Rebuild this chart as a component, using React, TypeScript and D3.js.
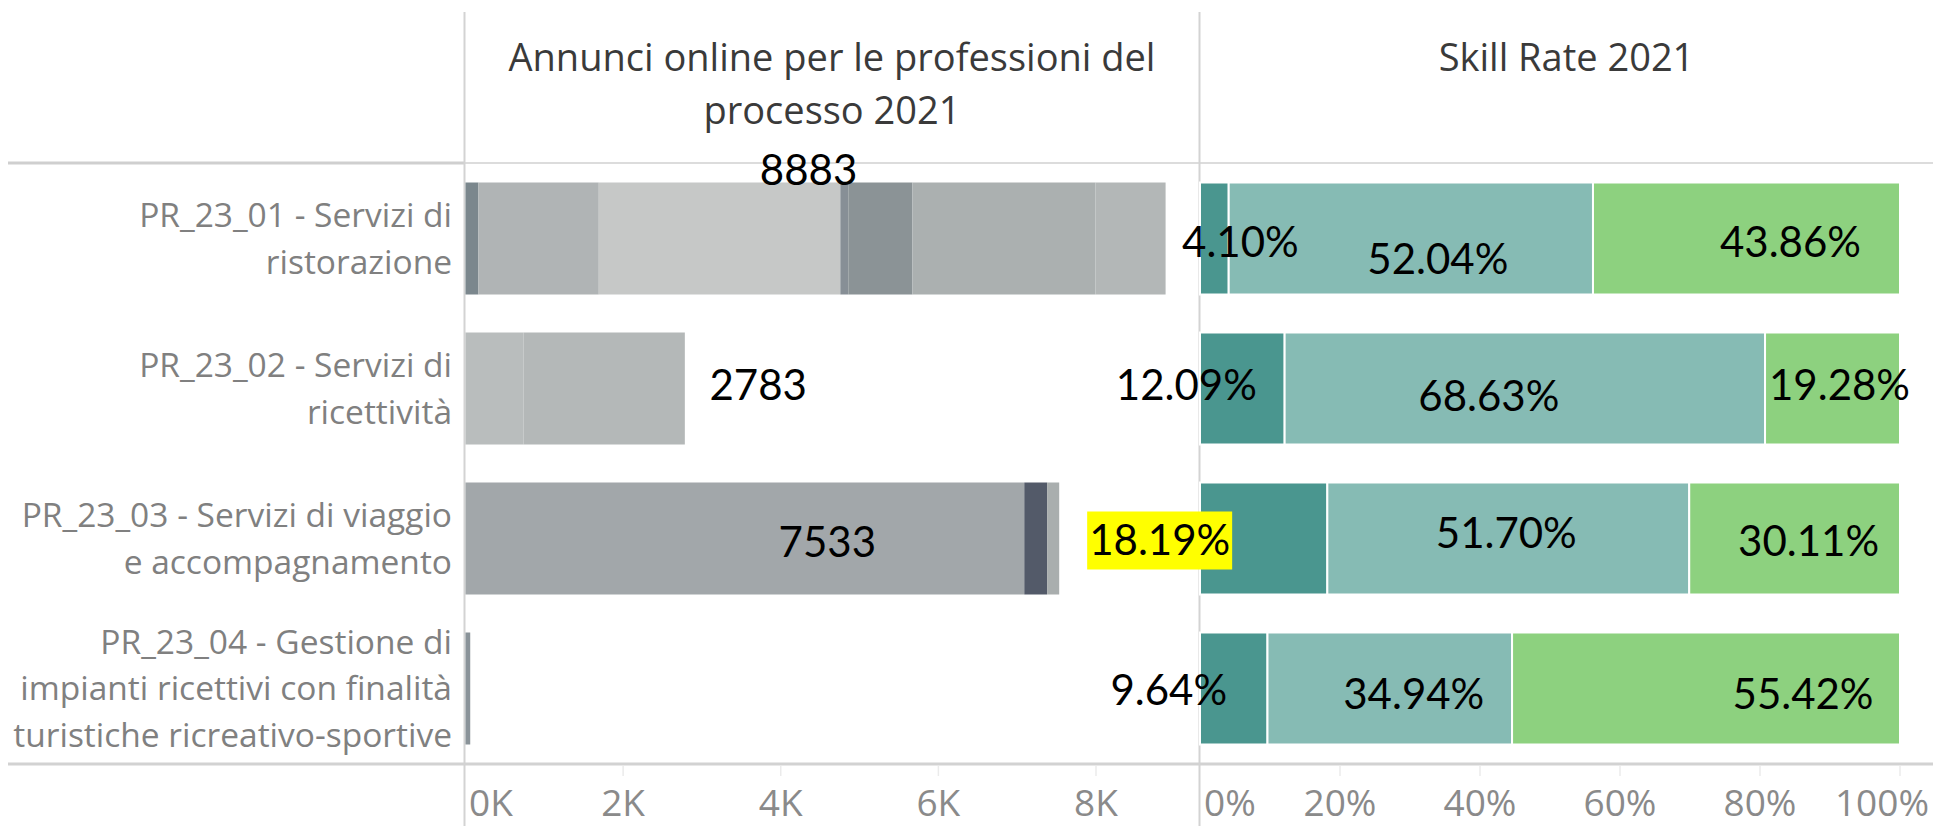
import React from "react";
import * as d3 from "d3";

// ---------- DATA ----------
const categoryIds = ["PR_23_01", "PR_23_02", "PR_23_03", "PR_23_04"];
const categoryLines = [
  ["PR_23_01 - Servizi di", "ristorazione"],
  ["PR_23_02 - Servizi di", "ricettività"],
  ["PR_23_03 - Servizi di viaggio", "e accompagnamento"],
  ["PR_23_04 - Gestione di", "impianti ricettivi con finalità", "turistiche ricreativo-sportive"],
];
// online job ads per profession (stacked by profession within the process)
const ristorazioneParts = [164, 1527, 3065, 101, 813, 2324, 889];
const ricettivitaParts = [735, 2048];
const viaggioParts = [7090, 290, 153];
const impiantiParts = [60];
const totalLabels = ["8883", "2783", "7533", ""];
// skill rate 2021 (%)
const skillLow = [4.1, 12.09, 18.19, 9.64];
const skillMid = [52.04, 68.63, 51.7, 34.94];
const skillHigh = [43.86, 19.28, 30.11, 55.42];
const leftTicks = [0, 2000, 4000, 6000, 8000];
const rightTicks = [0, 0.2, 0.4, 0.6, 0.8, 1];
const headerLeft = ["Annunci online per le professioni del", "processo 2021"];
const headerRight = "Skill Rate 2021";

// ---------- STYLE ----------
const partColors = [
  ["#7b878d", "#b0b4b5", "#c6c8c7", "#878f96", "#8b9396", "#abb0b0", "#b3b7b7"],
  ["#b9bdbd", "#b4b8b8"],
  ["#a2a7aa", "#535a69", "#a9aeae"],
  ["#8a9399"],
];
const skillColors = ["#4a968f", "#86bbb4", "#8dd17f"];
// label nudges (px) relative to segment / bar center
const totalNudge = [
  { dx: -7, dy: -69 },
  { dx: 183, dy: -4 },
  { dx: 65, dy: 3 },
  { dx: 0, dy: 0 },
];
const skillNudge = [
  [{ dx: 26, dy: 3 }, { dx: 27, dy: 20 }, { dx: 44, dy: 3 }],
  [{ dx: -56, dy: -4 }, { dx: -36, dy: 7 }, { dx: 7, dy: -4 }],
  [{ dx: -104, dy: 1 }, { dx: -2, dy: -6 }, { dx: 14, dy: 2 }],
  [{ dx: -65, dy: 1 }, { dx: 24, dy: 5 }, { dx: 97, dy: 5 }],
];

const W = 1933;
const H = 826;
const TAB = "'Open Sans', 'Noto Sans', sans-serif";
const LBL = "Lato, 'Open Sans', sans-serif";

export default function App() {
  const allParts = [ristorazioneParts, ricettivitaParts, viaggioParts, impiantiParts];

  const y = d3
    .scaleBand<string>()
    .domain(categoryIds)
    .range([163.5, 763.5])
    .paddingInner(0.2533)
    .paddingOuter(0.12667);

  const xL = d3.scaleLinear().domain([0, 8000]).range([465.5, 1096]);
  const xR = d3.scaleLinear().domain([0, 1]).range([1200, 1900]);
  const stack = d3.stack<any>().keys(["low", "mid", "high"]);
  const skillRows = categoryIds.map((id, i) => ({
    id,
    low: skillLow[i] / 100,
    mid: skillMid[i] / 100,
    high: skillHigh[i] / 100,
  }));
  const series = stack(skillRows);

  const fmtK = (v: number) => d3.format(".0f")(v / 1000) + "K";
  const fmtP = d3.format(".0%");
  const fmtLbl = (v: number) => v.toFixed(2) + "%";

  const bw = y.bandwidth();
  const labelFs = 42;
  const capL = labelFs * 0.72;

  return (
    <svg
      width={W}
      height={H}
      style={{ position: "absolute", left: 0, top: 0, background: "#fff" }}
    >
      {/* grid frame lines */}
      <line x1={8} x2={464} y1={163} y2={163} stroke="#cfcfcf" strokeWidth={3} />
      <line x1={464} x2={W} y1={163} y2={163} stroke="#dcdcdc" strokeWidth={2} />
      <line x1={464.5} x2={464.5} y1={12} y2={H} stroke="#d3d3d3" strokeWidth={2} />
      <line x1={1199.5} x2={1199.5} y1={12} y2={H} stroke="#d3d3d3" strokeWidth={2} />

      {/* headers */}
      {headerLeft.map((t, i) => (
        <text
          key={t}
          x={(465 + 1199) / 2}
          y={71 + i * 53}
          textAnchor="middle"
          fontFamily={TAB}
          fontSize={38}
          fill="#3a3a3a"
        >
          {t}
        </text>
      ))}
      <text
        x={(1200 + W) / 2}
        y={71}
        textAnchor="middle"
        fontFamily={TAB}
        fontSize={38}
        fill="#3a3a3a"
      >
        {headerRight}
      </text>

      {/* category labels */}
      {categoryIds.map((id, i) => {
        const lines = categoryLines[i];
        const cy = (y(id) as number) + bw / 2;
        const lh = 46.5;
        const first = cy - ((lines.length - 1) * lh) / 2;
        return lines.map((ln, j) => (
          <text
            key={id + j}
            x={452}
            y={first + j * lh + 12}
            textAnchor="end"
            fontFamily={TAB}
            fontSize={33.5}
            fill="#808080"
          >
            {ln}
          </text>
        ));
      })}

      {/* left stacked bars */}
      {categoryIds.map((id, i) => {
        const parts = allParts[i];
        let acc = 0;
        return (
          <g key={id}>
            {parts.map((v, j) => {
              const x0 = xL(acc);
              acc += v;
              const x1 = xL(acc);
              return (
                <rect
                  key={j}
                  x={x0}
                  y={y(id)}
                  width={x1 - x0}
                  height={bw}
                  fill={partColors[i][j]}
                />
              );
            })}
          </g>
        );
      })}

      {/* axis lines */}
      <line x1={8} x2={W} y1={764} y2={764} stroke="#d2d2d2" strokeWidth={3} />
      {leftTicks.slice(1).map((t) => (
        <line key={t} x1={xL(t)} x2={xL(t)} y1={766} y2={776} stroke="#ebebeb" strokeWidth={1.5} />
      ))}
      {rightTicks.slice(1).map((t) => (
        <line key={t} x1={xR(t)} x2={xR(t)} y1={766} y2={776} stroke="#ebebeb" strokeWidth={1.5} />
      ))}

      {/* right stacked bars */}
      {series.map((s, k) =>
        s.map((d, i) => (
          <rect
            key={k + "-" + i}
            x={xR(d[0])}
            y={y(categoryIds[i])}
            width={xR(d[1]) - xR(d[0])}
            height={bw}
            fill={skillColors[k]}
            stroke="#fff"
            strokeWidth={2}
          />
        ))
      )}

      {/* total labels */}
      {categoryIds.map((id, i) => {
        if (!totalLabels[i]) return null;
        const sum = d3.sum(allParts[i]);
        const cx = (xL(0) + xL(sum)) / 2 + totalNudge[i].dx;
        const cy = (y(id) as number) + bw / 2 + totalNudge[i].dy;
        return (
          <text
            key={id}
            x={cx}
            y={cy + capL / 2}
            textAnchor="middle"
            fontFamily={LBL}
            fontSize={labelFs}
            fill="#000"
          >
            {totalLabels[i]}
          </text>
        );
      })}

      {/* skill labels */}
      {series.map((s, k) =>
        s.map((d, i) => {
          const cx = (xR(d[0]) + xR(d[1])) / 2 + skillNudge[i][k].dx;
          const cy = (y(categoryIds[i]) as number) + bw / 2 + skillNudge[i][k].dy;
          const txt = fmtLbl((d[1] - d[0]) * 100);
          const highlight = i === 2 && k === 0;
          return (
            <g key={"l" + k + i}>
              {highlight && (
                <rect x={cx - 72.5} y={cy - 28} width={145} height={58} fill="#ffff00" />
              )}
              <text
                x={cx}
                y={cy + capL / 2}
                textAnchor="middle"
                fontFamily={LBL}
                fontSize={labelFs}
                fill="#000"
              >
                {txt}
              </text>
            </g>
          );
        })
      )}

      {/* tick labels */}
      {leftTicks.map((t, i) => (
        <text
          key={t}
          x={i === 0 ? 469 : xL(t)}
          y={816}
          textAnchor={i === 0 ? "start" : "middle"}
          fontFamily={TAB}
          fontSize={37}
          fill="#8a8a8a"
        >
          {fmtK(t)}
        </text>
      ))}
      {rightTicks.map((t, i) => (
        <text
          key={t}
          x={i === 0 ? 1204 : i === rightTicks.length - 1 ? 1929 : xR(t)}
          y={816}
          textAnchor={i === 0 ? "start" : i === rightTicks.length - 1 ? "end" : "middle"}
          fontFamily={TAB}
          fontSize={37}
          fill="#8a8a8a"
        >
          {fmtP(t)}
        </text>
      ))}
    </svg>
  );
}
